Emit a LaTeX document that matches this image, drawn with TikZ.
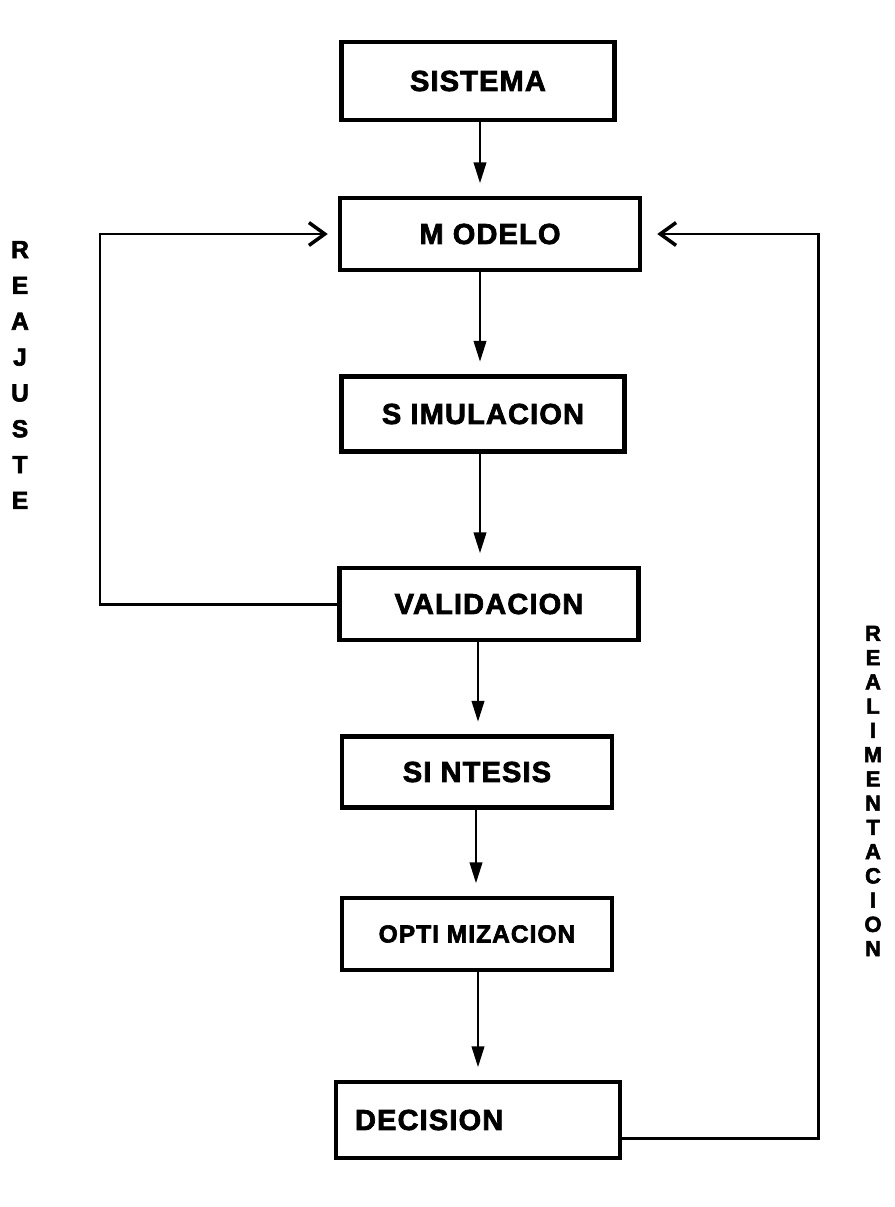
\documentclass[tikz,border=0pt]{standalone}
\usepackage{fontspec}
\setmainfont{Liberation Sans}[BoldFeatures={FakeBold=2.5,LetterSpace=4}]
\usetikzlibrary{arrows.meta,positioning,calc}

\begin{document}
\begin{tikzpicture}[x=0.02cm, y=-0.02cm,
    font=\fontsize{16.5}{19}\selectfont\bfseries,
    box/.style={draw, line width=2.6pt, rectangle, inner sep=0pt},
    flow/.style={line width=1.7pt, -{Triangle[length=12pt,width=7pt]}, shorten >=7pt},
    back/.style={line width=1.7pt, -{Straight Barb[length=9pt,width=13pt,line width=2pt]}},
    vert/.style={align=center, inner sep=0pt}
  ]
    \useasboundingbox (0,0) rectangle (894,1207);

    % main chain
    \node[box, minimum width=5.46cm, minimum height=1.56cm] (sis) at (478,81) {SISTEMA};
    \node[box, minimum width=6.0cm, minimum height=1.44cm] (mod) at (490,234) {M ODELO};
    \node[box, minimum width=5.66cm, minimum height=1.5cm] (sim) at (483,414) {S IMULACION};
    \node[box, minimum width=5.98cm, minimum height=1.44cm] (val) at (489,604) {VALIDACION};
    \node[box, minimum width=5.4cm, minimum height=1.42cm] (sin) at (477,772) {SI NTESIS};
    \node[box, minimum width=5.4cm, minimum height=1.44cm] (opt) at (477,934) {\fontsize{14}{16}\selectfont OPTI MIZACION};
    \node[box, text width=4.92cm, inner xsep=0.38cm, align=left,
      minimum height=1.52cm] (dec) at (478,1120) {DECISION};

    \draw[flow] (sis.south -| 480,0) -- (mod.north -| 480,0);
    \draw[flow] (mod.south -| 480,0) -- (sim.north -| 480,0);
    \draw[flow] (sim.south -| 480,0) -- (val.north -| 480,0);
    \draw[flow] (val.south -| 478,0) -- (sin.north -| 478,0);
    \draw[flow] (sin.south -| 476,0) -- (opt.north -| 476,0);
    \draw[flow] (opt.south -| 478,0) -- (dec.north -| 478,0);

    % loops back to the model
    \coordinate (lft) at (100,0);
    \coordinate (rgt) at (818,0);
    \draw[back] (val.west) -- (val.west -| lft) -- (mod.west -| lft)
      -- ([xshift=-0.2cm]mod.west);
    \draw[back] ([yshift=-0.36cm]dec.east) -- ([yshift=-0.36cm]dec.east -| rgt)
      -- (mod.east -| rgt) -- ([xshift=0.3cm]mod.east);

    \node[vert, font=\fontsize{14}{20.4}\selectfont\bfseries] (reaj) at (20,375)
      {R\\E\\A\\J\\U\\S\\T\\E};
    \node[vert, font=\fontsize{12.5}{13.8}\selectfont\bfseries] (real) at (873,791)
      {R\\E\\A\\L\\I\\M\\E\\N\\T\\A\\C\\I\\O\\N};
\end{tikzpicture}
\end{document}
